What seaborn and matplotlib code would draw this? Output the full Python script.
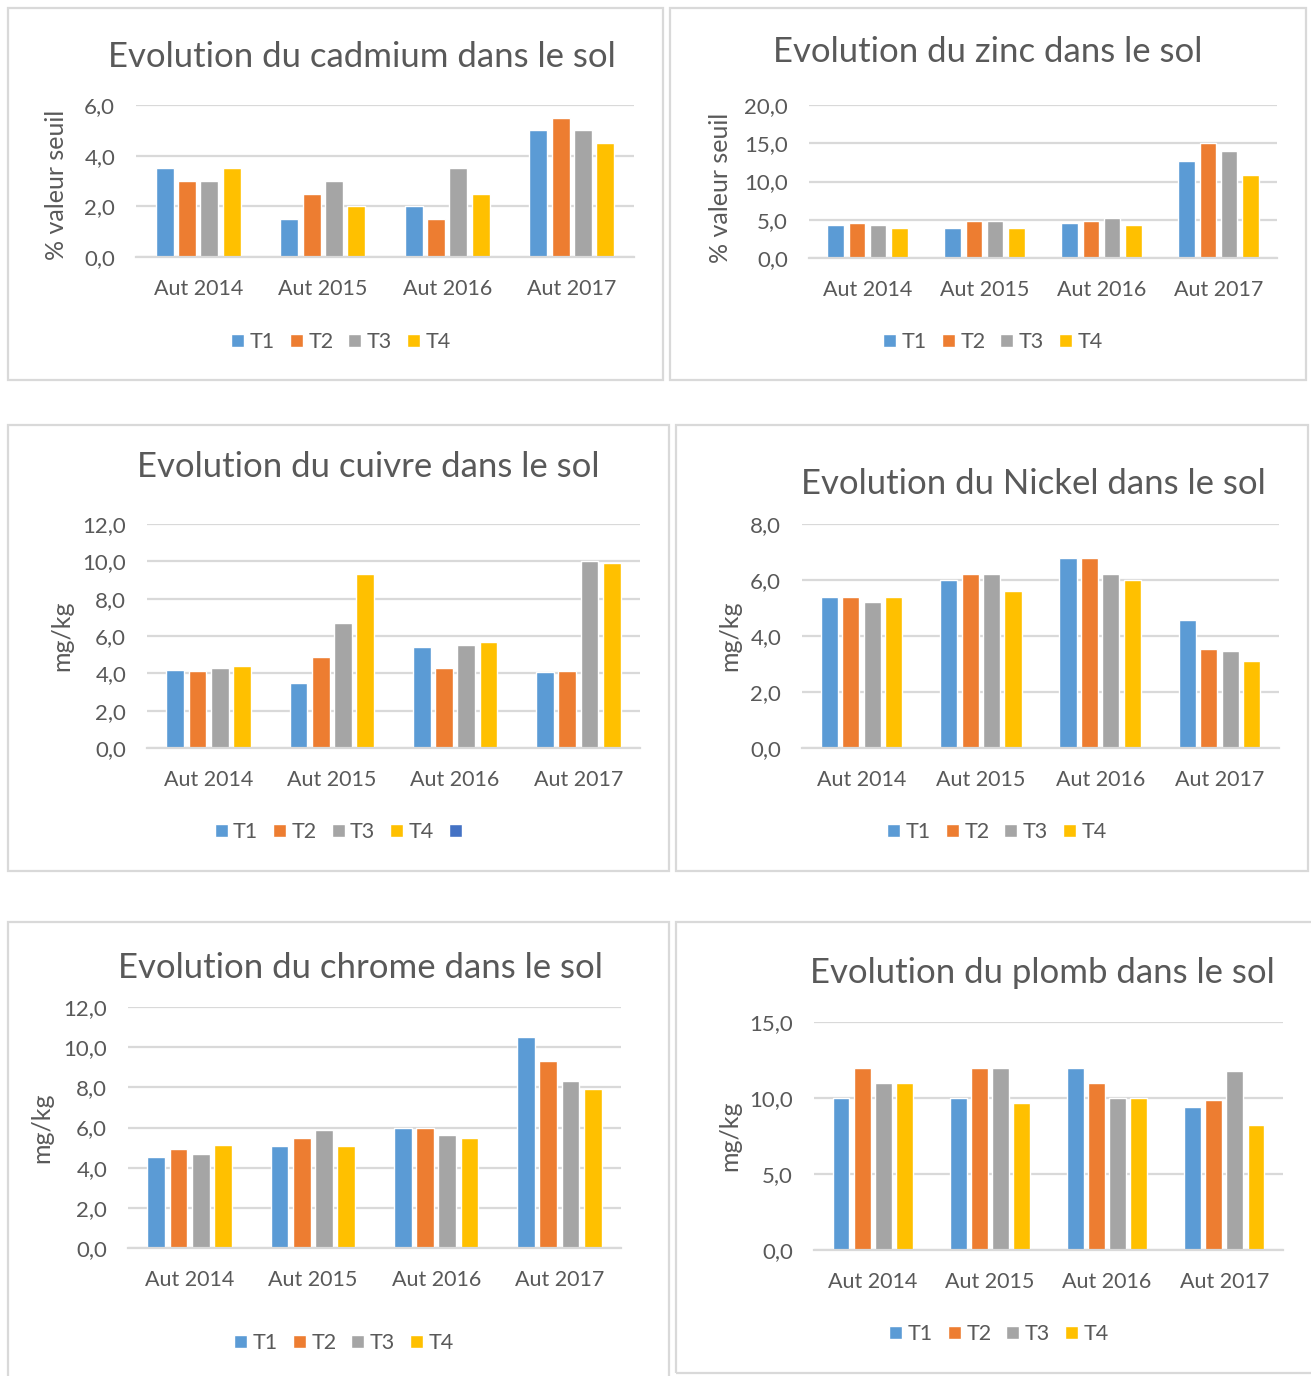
import numpy as np
import pandas as pd
import matplotlib
matplotlib.use("Agg")
import matplotlib.pyplot as plt
import seaborn as sns
from matplotlib.patches import Rectangle, Patch
from matplotlib.ticker import FuncFormatter

# data
years = ["Aut 2014", "Aut 2015", "Aut 2016", "Aut 2017"]
series = ["T1", "T2", "T3", "T4"]

cadmium = [[3.5, 3.0, 3.0, 3.5], [1.5, 2.5, 3.0, 2.0], [2.0, 1.5, 3.5, 2.5], [5.0, 5.5, 5.0, 4.5]]
zinc = [[4.25, 4.55, 4.25, 3.95], [3.95, 4.9, 4.9, 3.95], [4.55, 4.9, 5.2, 4.25], [12.7, 15.0, 14.0, 10.8]]
cuivre = [[4.2, 4.1, 4.3, 4.4], [3.5, 4.9, 6.7, 9.3], [5.4, 4.3, 5.5, 5.7], [4.05, 4.15, 10.0, 9.9]]
nickel = [[5.4, 5.4, 5.2, 5.4], [6.0, 6.2, 6.2, 5.6], [6.8, 6.8, 6.2, 6.0], [4.58, 3.53, 3.48, 3.11]]
chrome = [[4.52, 4.92, 4.66, 5.12], [5.06, 5.46, 5.86, 5.06], [6.0, 6.0, 5.64, 5.46], [10.5, 9.32, 8.3, 7.9]]
plomb = [[10.0, 12.0, 11.0, 11.0], [10.0, 12.0, 12.0, 9.7], [12.0, 11.0, 10.0, 10.0], [9.38, 9.9, 11.8, 8.2]]

colors = ["#5B9BD5", "#ED7D31", "#A5A5A5", "#FFC000"]
extra_color = "#4472C4"
grid_c = "#D9D9D9"
text_c = "#595959"

W, H = 1311, 1376
sns.set_theme(style="white")
plt.rcParams["font.family"] = ["Lato", "DejaVu Sans"]

fig = plt.figure(figsize=(W / 100, H / 100), dpi=100)


def fx(x):
    return x / W


def fy(y):
    return 1 - y / H


# panel settings: border, plot box, title, ylabel, legend (all pixels)
panels = [
    dict(name="Evolution du cadmium dans le sol", data=cadmium, ylab="% valeur seuil",
         box=(8, 8, 663, 380), plot=(136, 105, 634, 257), title=(362, 57), yl=(57, 185),
         leg=(341, 342), ymax=6, step=2, extra=False),
    dict(name="Evolution du zinc dans le sol", data=zinc, ylab="% valeur seuil",
         box=(670, 8, 1306, 380), plot=(809, 105, 1277, 258), title=(988, 52), yl=(721, 188),
         leg=(993, 342), ymax=20, step=5, extra=False),
    dict(name="Evolution du cuivre dans le sol", data=cuivre, ylab="mg/kg",
         box=(8, 425, 669, 871), plot=(147, 524, 640, 748), title=(368, 467), yl=(62, 636),
         leg=(341, 832), ymax=12, step=2, extra=True),
    dict(name="Evolution du Nickel dans le sol", data=nickel, ylab="mg/kg",
         box=(676, 425, 1308, 871), plot=(802, 524, 1279, 748), title=(1033, 484), yl=(730, 636),
         leg=(997, 832), ymax=8, step=2, extra=False),
    dict(name="Evolution du chrome dans le sol", data=chrome, ylab="mg/kg",
         box=(8, 922, 669, 1382), plot=(128, 1007, 621, 1248), title=(360, 968), yl=(42, 1128),
         leg=(344, 1343), ymax=12, step=2, extra=False),
    dict(name="Evolution du plomb dans le sol", data=plomb, ylab="mg/kg",
         box=(676, 922, 1316, 1373), plot=(814, 1022, 1283, 1250), title=(1042, 973), yl=(730, 1136),
         leg=(999, 1334), ymax=15, step=5, extra=False),
]

comma = FuncFormatter(lambda v, p: f"{v:.1f}".replace(".", ","))

for p in panels:
    x0, y0, x1, y1 = p["box"]
    fig.patches.append(Rectangle((fx(x0), fy(y1)), fx(x1 - x0), (y1 - y0) / H,
                                 transform=fig.transFigure, fill=False,
                                 edgecolor=grid_c, linewidth=1.6, zorder=0))

    l, t, r, b = p["plot"]
    ax = fig.add_axes([fx(l), fy(b), fx(r - l), (b - t) / H])

    df = pd.DataFrame(p["data"], index=years, columns=series)
    df = df.reset_index().melt(id_vars="index", var_name="serie", value_name="val")
    df = df.rename(columns={"index": "annee"})

    sns.barplot(data=df, x="annee", y="val", hue="serie", order=years, hue_order=series,
                palette=colors, width=0.72, gap=0.2, ax=ax, legend=False,
                saturation=1, errorbar=None)

    ax.set_xlim(-0.5, 3.5)
    ax.set_ylim(0, p["ymax"])
    ax.set_yticks(np.arange(0, p["ymax"] + 0.01, p["step"]))
    ax.yaxis.set_major_formatter(comma)
    ax.yaxis.grid(True, color=grid_c, linewidth=1.6)
    ax.set_axisbelow(True)
    for s in ["top", "right", "left"]:
        ax.spines[s].set_visible(False)
    ax.spines["bottom"].set_color(grid_c)
    ax.spines["bottom"].set_linewidth(1.6)
    ax.tick_params(axis="y", length=0, pad=15, labelsize=16, labelcolor=text_c)
    ax.tick_params(axis="x", length=0, pad=16, labelsize=15.5, labelcolor=text_c)
    ax.set_xlabel("")
    ax.set_ylabel("")

    fig.text(fx(p["title"][0]), fy(p["title"][1]), p["name"], ha="center", va="center",
             fontsize=25, color=text_c)
    fig.text(fx(p["yl"][0]), fy(p["yl"][1]), p["ylab"], ha="center", va="center",
             rotation=90, fontsize=18, color=text_c)

    handles = [Patch(facecolor=c, label=s) for c, s in zip(colors, series)]
    if p["extra"]:
        handles.append(Patch(facecolor=extra_color, label=""))
    leg = fig.legend(handles=handles, loc="center", ncol=len(handles),
                     bbox_to_anchor=(fx(p["leg"][0]), fy(p["leg"][1])),
                     frameon=False, fontsize=15.5, handlelength=0.6, handleheight=0.6,
                     handletextpad=0.25, columnspacing=0.7, borderaxespad=0)
    for txt in leg.get_texts():
        txt.set_color(text_c)

fig.savefig("out.png", dpi=100)
